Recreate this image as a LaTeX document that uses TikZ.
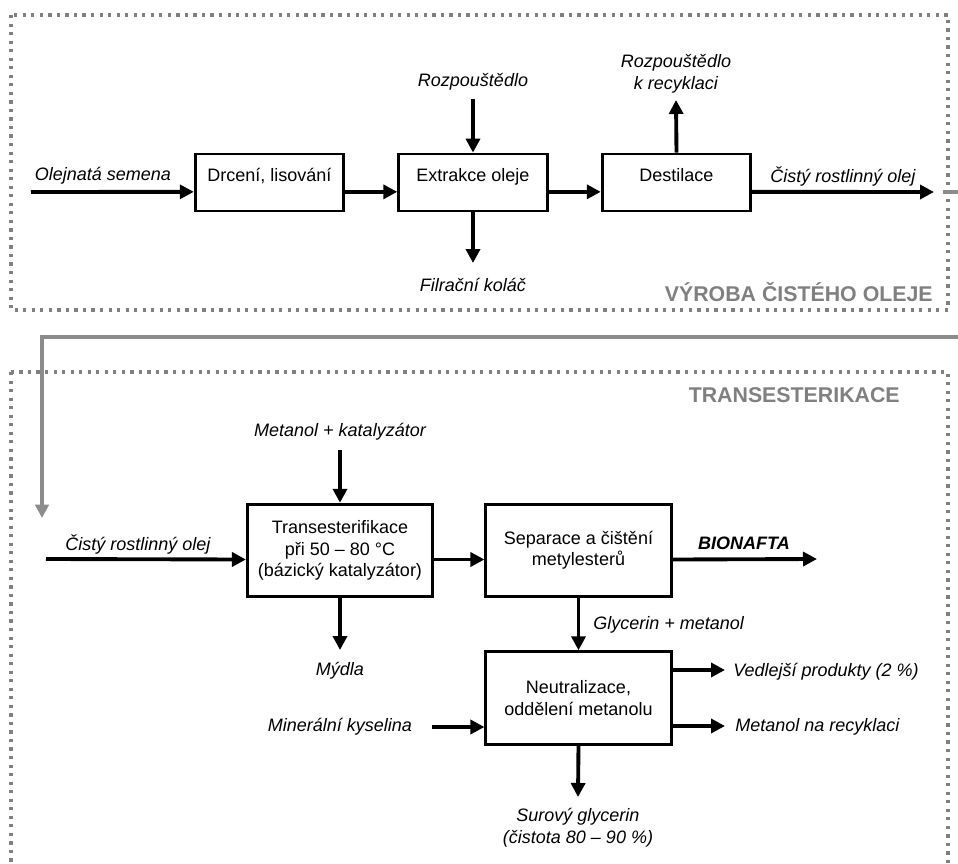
\documentclass[tikz,border=0pt]{standalone}
\usepackage{fontspec}
\setmainfont{Liberation Sans}
\usetikzlibrary{arrows.meta}
\definecolor{framegray}{RGB}{128,128,128}
\definecolor{linkgray}{RGB}{140,140,140}

\begin{document}
\begin{tikzpicture}[x=0.75pt,y=-0.75pt,
  every node/.style={font=\fontsize{13.5}{16}\selectfont},
  unit/.style={draw,line width=2.1pt,minimum width=111.5pt,minimum height=42.75pt,text depth=12pt},
  bigunit/.style={draw,line width=2.1pt,minimum width=139pt,minimum height=69.5pt,align=center},
  flowtext/.style={font=\fontsize{13.5}{16.5}\selectfont\itshape,inner sep=0pt},
  flow/.style={line width=2.9pt,-{Triangle[length=10.5pt,width=10.5pt]}},
  link/.style={line width=2.5pt,draw=linkgray,-{Triangle[length=10pt,width=10pt]}},
  panel/.style={draw=framegray,line width=2.4pt,dash pattern=on 2.4pt off 4pt},
  paneltitle/.style={font=\fontsize{16}{19}\selectfont\bfseries,text=framegray,inner sep=0pt,anchor=east}]
\useasboundingbox (0,0) rectangle (958,864);
\draw[panel] (11,15) rectangle (948,310);
\draw[panel] (11,372) rectangle (948,900);
\node[paneltitle] (titleoil) at (933,292) {VÝROBA ČISTÉHO OLEJE};
\node[paneltitle] (titletrans) at (900,395) {TRANSESTERIKACE};

\node[unit] (crush) at (269.5,182.5) {Drcení, lisování};
\node[unit] (extract) at (473,182.5) {Extrakce oleje};
\node[unit] (distil) at (676.5,182.5) {Destilace};
\node[flowtext] (seeds) at (103,176) {Olejnatá semena};
\node[flowtext] (oil) at (843,176) {Čistý rostlinný olej};
\node[flowtext] (solvent) at (473,82) {Rozpouštědlo};
\node[flowtext] (cake) at (473,285) {Filrační koláč};
\node[flowtext,align=center] (recsolv) at (676,74) {Rozpouštědlo\\k recyklaci};
\coordinate (seedsin) at (31,192);
\coordinate (oilout) at (934,192);
\coordinate (solventin) at (473,99);
\coordinate (cakeout) at (473,263);
\coordinate (recout) at (676,100);
\draw[flow] (seedsin) -- ([yshift=-7pt]crush.west);
\draw[flow] ([yshift=-7pt]crush.east) -- ([yshift=-7pt]extract.west);
\draw[flow] ([yshift=-7pt]extract.east) -- ([yshift=-7pt]distil.west);
\draw[flow] ([yshift=-7pt]distil.east) -- (oilout);
\draw[flow] (solventin) -- (extract.north);
\draw[flow] (extract.south) -- (cakeout);
\draw[flow] (distil.north) -- (recout);

\coordinate (linkstart) at (943,192);
\coordinate (linkend) at (42,518);
\draw[link] (linkstart) -- (975,192) |- (42,337) -- (linkend);

\node[bigunit] (trans) at (340,550.5) {Transesterifikace\\při 50 – 80 °C\\(bázický katalyzátor)};
\node[bigunit] (sep) at (578.5,550.5) {Separace a čištění\\metylesterů};
\node[bigunit] (neutral) at (578.5,698) {Neutralizace,\\oddělení metanolu};
\node[flowtext] (oilin) at (138,544) {Čistý rostlinný olej};
\node[flowtext] (methcat) at (340,432) {Metanol + katalyzátor};
\node[flowtext,font=\fontsize{13.5}{16}\selectfont\bfseries\itshape] (fuel) at (744,543) {BIONAFTA};
\node[flowtext,anchor=west] (glymeth) at (593,625) {Glycerin + metanol};
\node[flowtext] (soap) at (340,671) {Mýdla};
\node[flowtext] (acid) at (340,727) {Minerální kyselina};
\node[flowtext,anchor=west] (byprod) at (733,672) {Vedlejší produkty (2 \%)};
\node[flowtext,anchor=west] (methrec) at (735,727) {Metanol na recyklaci};
\node[flowtext,align=center] (glycerin) at (578,828) {Surový glycerin\\(čistota 80 – 90 \%)};
\coordinate (oilstart) at (46,559);
\coordinate (methin) at (340,450);
\coordinate (fuelout) at (817,559);
\coordinate (soapout) at (340,650);
\coordinate (acidin) at (432,727);
\coordinate (byout) at (725,670);
\coordinate (methout) at (725,726);
\coordinate (glyout) at (578,797);
\draw[flow] (oilstart) -- ([yshift=-6.75pt]trans.west);
\draw[flow] (methin) -- (trans.north);
\draw[flow] ([yshift=-6.75pt]trans.east) -- ([yshift=-6.75pt]sep.west);
\draw[flow] ([yshift=-6.75pt]sep.east) -- (fuelout);
\draw[flow] (sep.south) -- (neutral.north);
\draw[flow] (trans.south) -- (soapout);
\draw[flow] (acidin) -- (neutral.west |- acidin);
\draw[flow] (neutral.east |- byout) -- (byout);
\draw[flow] (neutral.east |- methout) -- (methout);
\draw[flow] (neutral.south) -- (glyout);
\end{tikzpicture}
\end{document}
